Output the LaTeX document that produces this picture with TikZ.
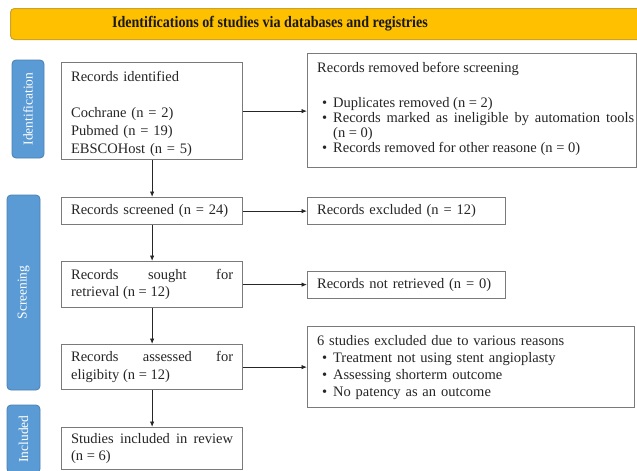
\documentclass[tikz,border=0pt]{standalone}
\usepackage{fontspec}
\setmainfont{Liberation Serif}
\newfontfamily\titlefont[FakeStretch=0.88]{Liberation Serif}
\usetikzlibrary{arrows.meta}
\definecolor{gold}{HTML}{FFC000}
\definecolor{golddark}{HTML}{C9A227}
\definecolor{sideblue}{HTML}{5B9BD5}
\definecolor{sideblueb}{HTML}{4A7FB0}
\definecolor{boxgray}{HTML}{7A7A7A}
\definecolor{txtgray}{HTML}{262626}
\newcommand{\bitem}[1]{\par\hangindent=16pt\hangafter=1\noindent\makebox[16pt][l]{\hspace{5pt}\textbullet}#1}
\hyphenpenalty=10000
\exhyphenpenalty=10000
\begin{document}
\begin{tikzpicture}[x=1pt,y=-1pt,
  box/.style={draw=boxgray, line width=1.2pt, fill=white, inner xsep=9.5pt, inner ysep=0pt,
    anchor=north west, text=txtgray, font=\fontsize{14.5}{17.5}\selectfont},
  sidelab/.style={draw=sideblueb, line width=0.8pt, fill=sideblue, rounded corners=4pt,
    rotate=90, text=white, inner sep=0pt, font=\fontsize{13.5}{15}\selectfont},
  flow/.style={draw=black!85, line width=0.9pt, -{Latex[length=5.5pt,width=4.5pt]}}]
\useasboundingbox (0,0) rectangle (637,471);
\clip (0,0) rectangle (637,471);

% title bar
\node[draw=golddark, line width=1pt, fill=gold, rounded corners=4pt, minimum width=650pt,
  minimum height=31pt, inner sep=0pt, anchor=north west] (titlebar) at (10,8) {};
\node[inner sep=0pt, font=\titlefont\bfseries\fontsize{16}{18}\selectfont, text=black!90] (titletext) at (270,23.5)
  {Identifications of studies via databases and registries};

% side labels
\node[sidelab, minimum width=98pt, minimum height=32pt] (idlab) at (28,109) {Identification};
\node[sidelab, minimum width=195pt, minimum height=33pt] (scrlab) at (23.5,292.5) {Screening};
\node[sidelab, minimum width=68pt, minimum height=33pt] (inclab) at (23.5,439) {Included};

% left column
\node[box, text width=162pt, minimum height=97pt, align=left, font=\fontsize{14.5}{18}\selectfont] (ident) at (61,62)
  {\rule{0pt}{16pt}Records identified\\ \mbox{}\\ Cochrane (n = 2)\\ Pubmed (n = 19)\\ EBSCOHost (n = 5)};
\node[box, text width=162pt, minimum height=27pt, align=left] (screened) at (61,197)
  {Records screened (n = 24)};
\node[box, text width=162pt, minimum height=46pt, align=justify] (sought) at (61,261)
  {Records sought for\linebreak retrieval (n = 12)};
\node[box, text width=162pt, minimum height=45pt, align=justify] (assessed) at (61,344)
  {Records assessed for\linebreak eligibity (n = 12)};
\node[box, text width=162pt, minimum height=42pt, align=justify] (included) at (61,427)
  {Studies included in review\linebreak (n = 6)};

% right column
\node[box, minimum width=329pt, minimum height=114pt] (removed) at (307,53) {};
\node[anchor=north west, inner sep=0pt, text width=317pt, align=justify, text=txtgray,
  font=\fontsize{14.5}{15.2}\selectfont] (removedtxt) at (317,62.5)
  {\noindent Records removed before screening\par\vspace{19pt}
   \bitem{Duplicates removed (n = 2)}
   \bitem{Records marked as ineligible by automation tools\linebreak (n = 0)}
   \bitem{Records removed for other reasone (n = 0)}\par};
\node[box, text width=179pt, minimum height=27pt, align=left] (excluded) at (307,197)
  {Records excluded (n = 12)};
\node[box, text width=179pt, minimum height=27pt, align=left] (notretr) at (307,271)
  {Records not retrieved (n = 0)};
\node[box, text width=308pt, minimum height=81pt, font=\fontsize{14.5}{17}\selectfont] (excl6) at (307,326)
  {\noindent 6 studies excluded due to various reasons
   \bitem{Treatment not using stent angioplasty}
   \bitem{Assessing shorterm outcome}
   \bitem{No patency as an outcome}\par};

% connectors
\draw[flow] (ident.south) -- (screened.north);
\draw[flow] (screened.south) -- (sought.north);
\draw[flow] (sought.south) -- (assessed.north);
\draw[flow] (assessed.south) -- (included.north);
\draw[flow] (ident.east) -- (ident.east -| removed.west);
\draw[flow] (screened.east) -- (screened.east -| excluded.west);
\draw[flow] (sought.east) -- (sought.east -| notretr.west);
\draw[flow] (assessed.east) -- (assessed.east -| excl6.west);
\end{tikzpicture}
\end{document}
